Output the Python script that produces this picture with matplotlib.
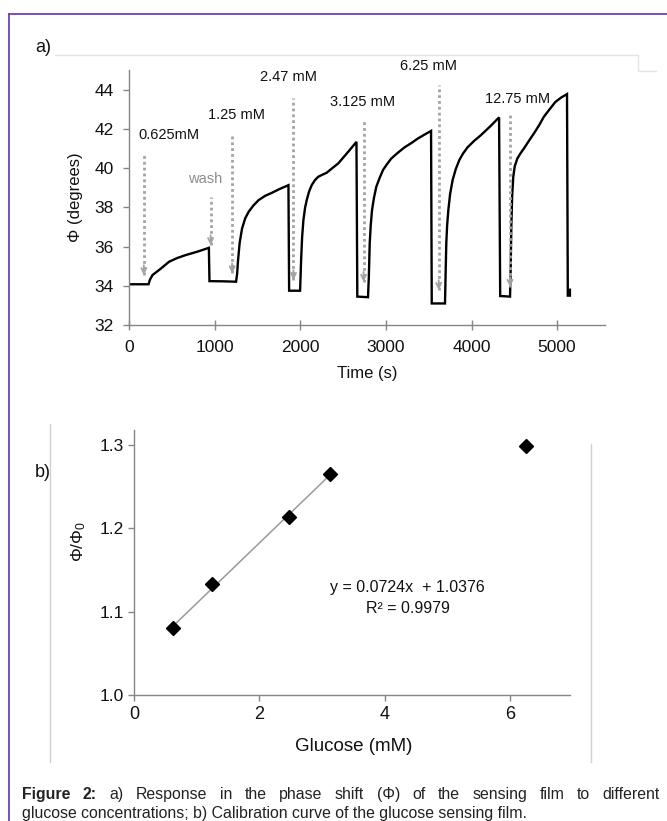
import numpy as np
import matplotlib
matplotlib.use('Agg')
import matplotlib.pyplot as plt
from matplotlib.lines import Line2D

plt.rcParams['font.family'] = ['Liberation Sans', 'DejaVu Sans']
plt.rcParams['mathtext.fontset'] = 'custom'
plt.rcParams['mathtext.rm'] = 'Liberation Sans'
plt.rcParams['mathtext.it'] = 'Liberation Sans:italic'

# panel a) phase shift trace (time in s, phase in degrees)
time_s = [0, 225, 240, 271, 360, 465, 560, 659, 800, 930,
          937, 1100, 1248,
          1260, 1271, 1290, 1318, 1355, 1395, 1450, 1512, 1590, 1667, 1760, 1860,
          1868, 1996,
          2002, 2008, 2020, 2035, 2055, 2074, 2100, 2132, 2170, 2209, 2260, 2306, 2370, 2442, 2550, 2655,
          2665, 2790,
          2800, 2810, 2822, 2837, 2860, 2887, 2925, 2965, 3010, 3062, 3140, 3217, 3300, 3372, 3450, 3527,
          3535, 3690,
          3697, 3705, 3715, 3729, 3750, 3779, 3815, 3857, 3900, 3953, 4030, 4109, 4220, 4322,
          4335, 4450,
          4458, 4465, 4475, 4488, 4505, 4535, 4570, 4612, 4670, 4729, 4790, 4845, 4910, 4980, 5050, 5116,
          5125, 5125, 5150, 5150]
phase_deg = [34.08, 34.08, 34.3, 34.55, 34.85, 35.23, 35.42, 35.57, 35.75, 35.94,
             34.24, 34.23, 34.21,
             34.6, 35.3, 36.2, 36.93, 37.45, 37.78, 38.1, 38.38, 38.6, 38.75, 38.95, 39.14,
             33.75, 33.75,
             34.5, 35.3, 36.5, 37.36, 38.0, 38.38, 38.8, 39.14, 39.4, 39.57, 39.68, 39.77, 40.0, 40.25, 40.8, 41.35,
             33.45, 33.42,
             34.5, 36.17, 37.1, 37.87, 38.5, 39.06, 39.5, 39.91, 40.2, 40.5, 40.8, 41.07, 41.3, 41.52, 41.72, 41.91,
             33.1, 33.1,
             34.6, 36.17, 37.1, 37.87, 38.7, 39.4, 39.95, 40.42, 40.75, 41.07, 41.4, 41.69, 42.15, 42.6,
             33.48, 33.45,
             35.0, 37.02, 38.6, 39.57, 40.1, 40.5, 40.75, 41.01, 41.4, 41.78, 42.2, 42.63, 43.0, 43.39, 43.62, 43.79,
             33.8, 33.5, 33.5, 33.8]

# injection arrows
arrow_time = [170, 950, 1202, 1919, 2738, 3616, 4450]
arrow_top = [40.76, 38.55, 41.78, 43.57, 42.46, 44.24, 42.8]
arrow_bottom = [34.55, 36.08, 34.64, 34.3, 34.21, 33.79, 33.95]

label_text = ['0.625mM', 'wash', '1.25 mM', '2.47 mM', '3.125 mM', '6.25 mM', '12.75 mM']
label_time = [459, 882, 1258, 1860, 2728, 3500, 4534]
label_phase = [41.70, 39.46, 42.72, 44.65, 43.40, 45.2, 43.53]
label_color = ['#111111', '#8c8c8c', '#111111', '#111111', '#111111', '#111111', '#111111']

time_ticks = [0, 1000, 2000, 3000, 4000, 5000]
phase_ticks = [32, 34, 36, 38, 40, 42, 44]

# panel b) calibration
glucose_mM = [0.625, 1.25, 2.47, 3.125, 6.25]
phi_ratio = [1.080, 1.133, 1.213, 1.265, 1.299]
n_fit = 4
glucose_ticks = [0, 2, 4, 6]
ratio_ticks = [1.0, 1.1, 1.2, 1.3]

caption_1 = [('Figure', 'bold'), ('2:', 'bold'), ('a)', 'normal'), ('Response', 'normal'),
             ('in', 'normal'), ('the', 'normal'), ('phase', 'normal'), ('shift', 'normal'),
             ('(Φ)', 'normal'), ('of', 'normal'), ('the', 'normal'), ('sensing', 'normal'),
             ('film', 'normal'), ('to', 'normal'), ('different', 'normal')]
caption_2 = 'glucose concentrations; b) Calibration curve of the glucose sensing film.'

W, H = 667, 821
fig = plt.figure(figsize=(W / 100, H / 100), dpi=100)


def box(x0, y0, x1, y1):
    # pixel box (top-left origin) -> figure fraction rect
    return [x0 / W, 1 - y1 / H, (x1 - x0) / W, (y1 - y0) / H]


def fline(xs, ys, color, lw=1.0):
    fig.add_artist(Line2D([x / W for x in xs], [1 - y / H for y in ys],
                          transform=fig.transFigure, color=color, lw=lw))


spine_c = '#858585'
text_c = '#111111'

# ---- panel a
ax1 = fig.add_axes(box(129.3, 70, 605, 325))
ax1.plot(time_s, phase_deg, color='black', lw=1.7, solid_joinstyle='miter')
ax1.vlines(arrow_time, arrow_bottom, arrow_top, colors='#a3a3a3',
           linestyles=(0, (1.0, 1.1)), lw=2.0)
for t, b in zip(arrow_time, arrow_bottom):
    ax1.annotate('', xy=(t, b), xytext=(t, b + 0.5),
                 arrowprops=dict(arrowstyle='->', color='#a3a3a3', lw=1.3,
                                 mutation_scale=9, shrinkA=0, shrinkB=0))
for s, t, v, c in zip(label_text, label_time, label_phase, label_color):
    ax1.text(t, v, s, ha='center', va='center', fontsize=10.5, color=c)

ax1.set_xlim(0, 5560)
ax1.set_ylim(32, 45.02)
ax1.set_xticks(time_ticks)
ax1.set_yticks(phase_ticks)
ax1.tick_params(axis='x', direction='inout', length=7, width=1, color=spine_c,
                labelsize=12.5, labelcolor=text_c, pad=7)
ax1.tick_params(axis='y', direction='out', length=4, width=1, color=spine_c,
                labelsize=12.5, labelcolor=text_c, pad=7)
for side in ['top', 'right']:
    ax1.spines[side].set_visible(False)
for side in ['left', 'bottom']:
    ax1.spines[side].set_color(spine_c)
    ax1.spines[side].set_linewidth(1.0)
ax1.set_xlabel('Time (s)', fontsize=12, color=text_c)
ax1.xaxis.set_label_coords(0.5, -0.16)
ax1.set_ylabel('Φ (degrees)', fontsize=12, color=text_c)
ax1.yaxis.set_label_coords(-0.097, 0.5)

# ---- panel b
ax2 = fig.add_axes(box(134, 430, 570, 695))
coef = np.polyfit(glucose_mM[:n_fit], phi_ratio[:n_fit], 1)
xfit = np.array([glucose_mM[0], glucose_mM[n_fit - 1]])
ax2.plot(xfit, np.polyval(coef, xfit), color='#9a9a9a', lw=1.1)
ax2.plot(glucose_mM, phi_ratio, linestyle='none', marker='D', markersize=7,
         color='black')
ax2.set_xlim(0, 6.96)
ax2.set_ylim(1.0, 1.318)
ax2.set_xticks(glucose_ticks)
ax2.set_yticks(ratio_ticks)
ax2.set_yticklabels([f'{v:.1f}' for v in ratio_ticks])
ax2.tick_params(axis='x', direction='out', length=4, width=1, color=spine_c,
                labelsize=13, labelcolor=text_c, pad=4)
ax2.tick_params(axis='y', direction='out', length=4, width=1, color=spine_c,
                labelsize=12.5, labelcolor=text_c, pad=3)
for side in ['top', 'right']:
    ax2.spines[side].set_visible(False)
for side in ['left', 'bottom']:
    ax2.spines[side].set_color(spine_c)
    ax2.spines[side].set_linewidth(1.0)
ax2.set_xlabel('Glucose (mM)', fontsize=13.5, color=text_c)
ax2.xaxis.set_label_coords(0.505, -0.162)
ax2.set_ylabel('Φ/Φ$_0$', fontsize=12.5, color=text_c)
ax2.yaxis.set_label_coords(-0.105, 0.58)
ax2.text(0.628, 0.404, 'y = 0.0724x  + 1.0376', transform=ax2.transAxes,
         ha='center', va='center', fontsize=11.5, color=text_c)
ax2.text(0.628, 0.328, 'R² = 0.9979', transform=ax2.transAxes,
         ha='center', va='center', fontsize=11.5, color=text_c)

# ---- frame, chart-area edges and panel letters
purple = '#6f42b8'
fline([9, W], [14, 14], purple, 1.3)
fline([9, 9], [14, H], purple, 1.3)
fline([55, 638, 638, 656], [55, 55, 71, 71], '#e4e4e4', 1.0)
fline([50, 50], [424, 762], '#d0d0d0', 1.0)
fline([591, 591], [444, 762], '#d0d0d0', 1.0)

fig.text(43 / W, 1 - 48 / H, 'a)', fontsize=13, color=text_c, ha='center', va='center')
fig.text(43 / W, 1 - 472 / H, 'b)', fontsize=13, color=text_c, ha='center', va='center')

# ---- caption (first line justified to the frame width)
cap_size = 11.4
cap_c = '#222222'
renderer = fig.canvas.get_renderer()
words = [fig.text(0, 1 - 799 / H, w, fontsize=cap_size, fontweight=fw, color=cap_c,
                  ha='left', va='baseline') for w, fw in caption_1]
widths = [t.get_window_extent(renderer).width for t in words]
x_left, x_right = 22, 660
gap = (x_right - x_left - sum(widths)) / (len(words) - 1)
x = x_left
for t, w in zip(words, widths):
    t.set_x(x / W)
    x += w + gap
fig.text(x_left / W, 1 - 818 / H, caption_2, fontsize=cap_size, color=cap_c,
         ha='left', va='baseline')

fig.savefig('out.png', dpi=100)
